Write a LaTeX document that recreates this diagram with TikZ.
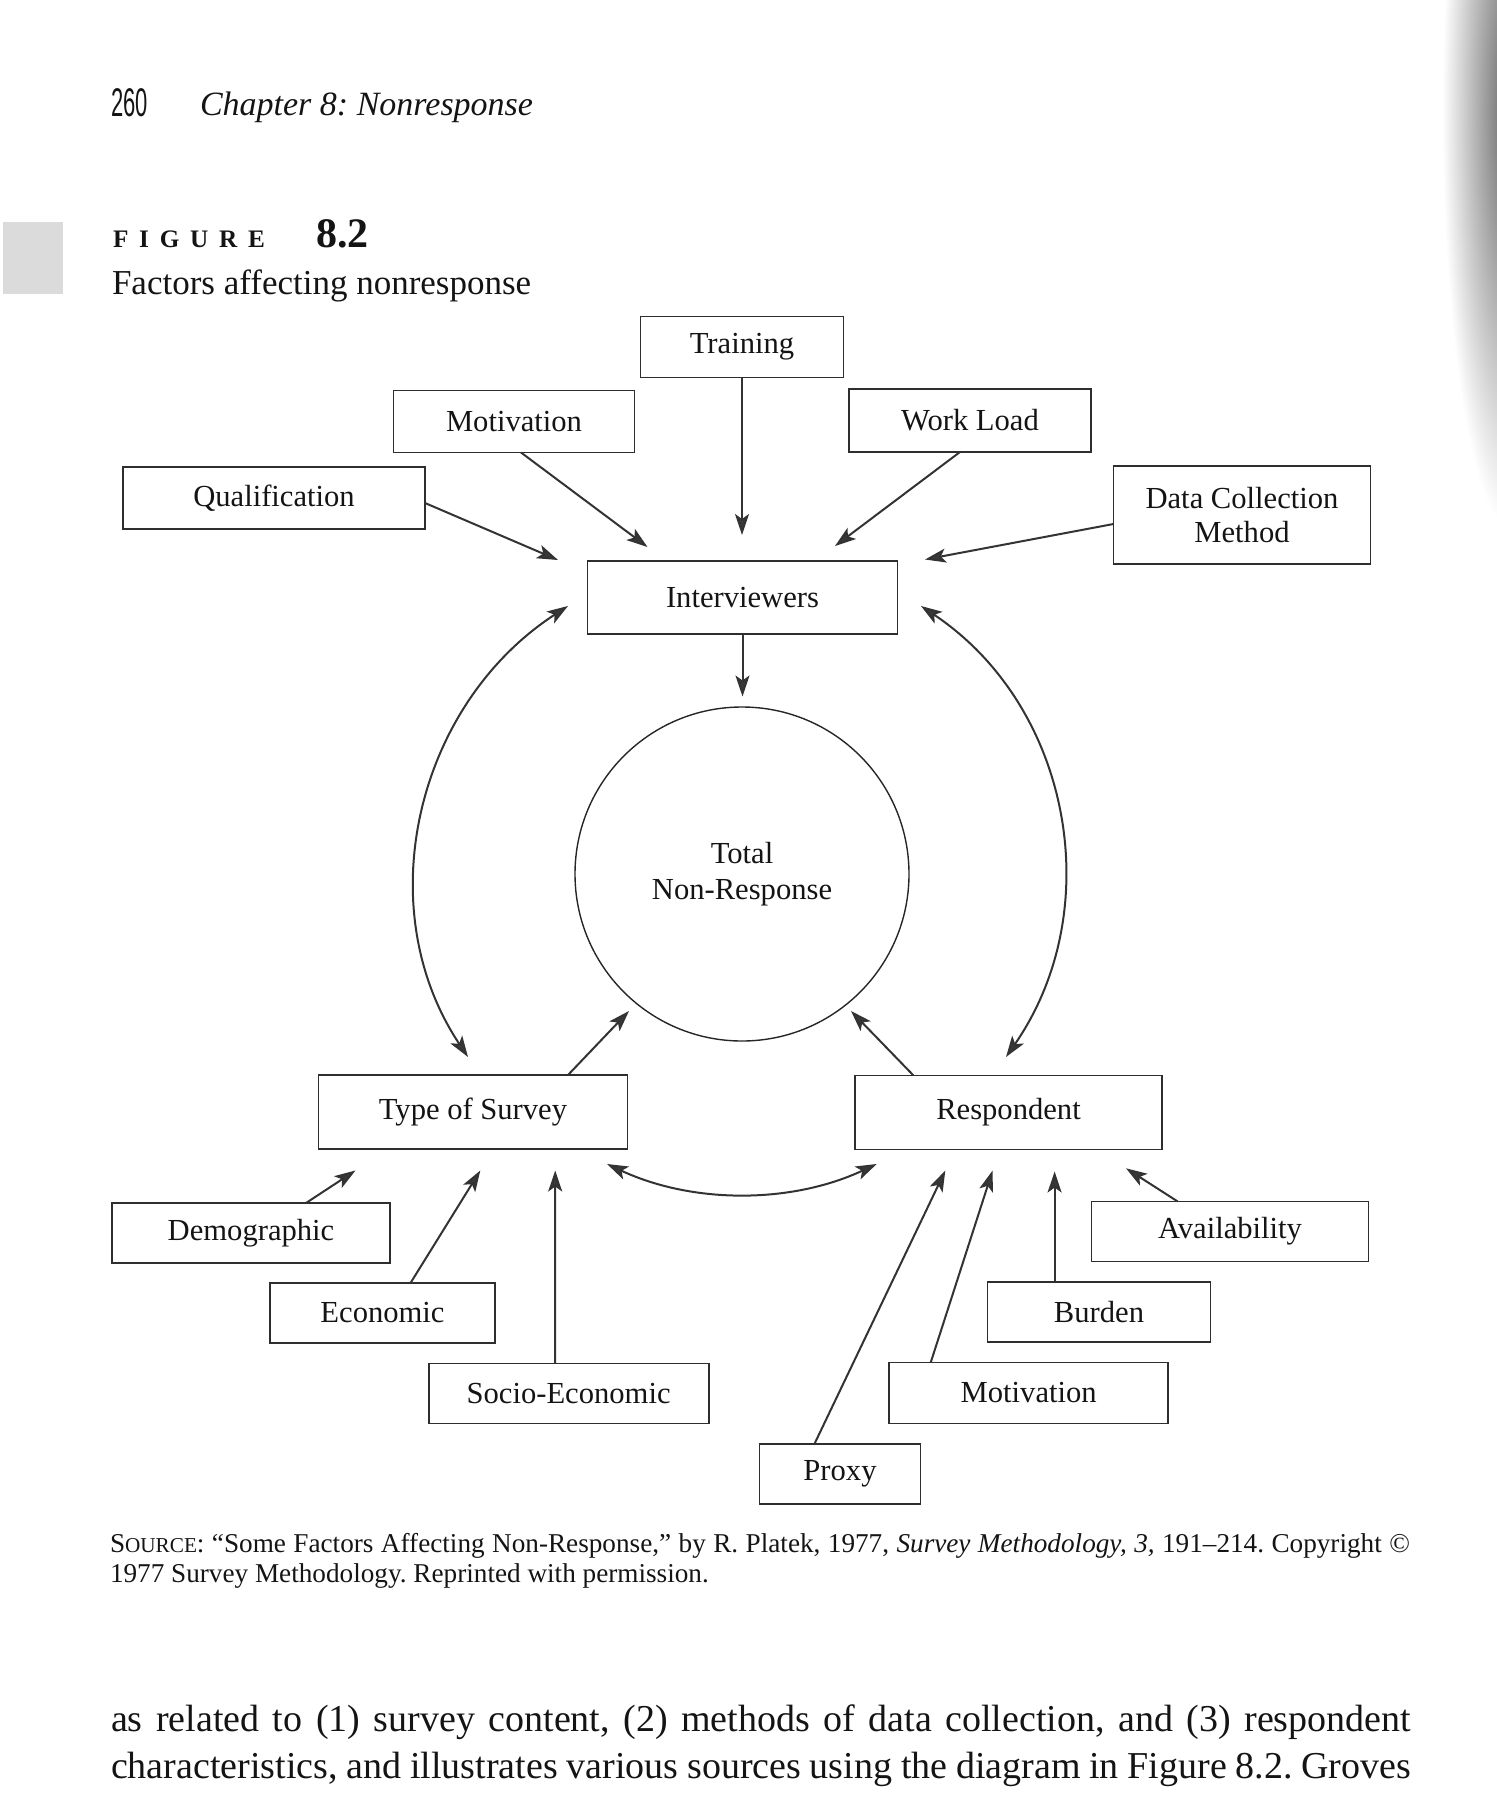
\documentclass[tikz,border=0pt]{standalone}
\usepackage{fontspec}
\usepackage{graphicx}
\setmainfont{Liberation Serif}
\newfontfamily\numfont{Liberation Sans}
\usetikzlibrary{arrows.meta,calc}
\begin{document}
\frenchspacing
\begin{tikzpicture}[x=0.5pt,y=-0.5pt,
  every node/.style={inner sep=0pt, outer sep=0pt, text=black!92},
  fbox/.style={draw=black!82, line width=0.9pt, align=center,
    font=\fontsize{15.3}{17}\selectfont},
  arr/.style={draw=black!80, fill=none, line width=1pt, -{Stealth[length=10.5pt,width=7pt,inset=2.5pt,fill=black!78]}},
  darr/.style={draw=black!80, line width=1pt, {Stealth[length=10.5pt,width=7pt,inset=2.5pt,fill=black!78]}-{Stealth[length=10.5pt,width=7pt,inset=2.5pt,fill=black!78]}}
]
\useasboundingbox (0,0) rectangle (1497,1793);

% scan artefacts: page shadow at right and grey tab at left
\shade[inner color=black!62, outer color=white] (1512,110) ellipse [x radius=70, y radius=420];
\fill[black!14] (3,222) rectangle (63,294);

% running head
\node[anchor=base west, font=\numfont\fontsize{20}{20}\selectfont] (pnum) at (111,117) {\scalebox{0.55}[1]{260}};
\node[anchor=base west, font=\itshape\fontsize{17}{19}\selectfont] (chap) at (200,115.5) {Chapter 8: Nonresponse};

% figure title
\node[anchor=base west, font=\bfseries\fontsize{12.6}{14}\selectfont] (figword) at (113,247.5)
  {F\hspace{5.4pt}I\hspace{5.4pt}G\hspace{5.4pt}U\hspace{5.4pt}R\hspace{5.4pt}E};
\node[anchor=base west, font=\bfseries\fontsize{21}{23}\selectfont] (fignum) at (316,247.5) {8.2};
\node[anchor=base west, font=\fontsize{17.5}{20}\selectfont] (figcap) at (112,294.3) {Factors affecting nonresponse};

% boxes
\node[fbox, minimum width=101.5pt, minimum height=30.5pt] (train) at (742,347) {\raisebox{-1.5pt}{Training}};
\node[fbox, minimum width=120.5pt, minimum height=31pt] (motivT) at (514,421.5) {\raisebox{-1.5pt}{Motivation}};
\node[fbox, minimum width=121pt, minimum height=31.5pt] (work) at (970,420.5) {\raisebox{-1.5pt}{Work Load}};
\node[fbox, minimum width=151pt, minimum height=31pt] (qual) at (274,498) {\raisebox{-2pt}{Qualification}};
\node[fbox, minimum width=128.5pt, minimum height=49pt] (dcm) at (1242,515) {Data Collection\\Method};
\node[fbox, minimum width=155pt, minimum height=36.5pt] (interv) at (742.5,597.5) {Interviewers};
\node[draw=black!85, line width=0.7pt, circle, minimum size=167pt, align=center,
  font=\fontsize{15.3}{17.7}\selectfont] (tnr) at (742,874) {Total\\Non-Response};
\node[fbox, minimum width=154.5pt, minimum height=37pt] (tos) at (473,1112) {\raisebox{-1pt}{Type of Survey}};
\node[fbox, minimum width=153.5pt, minimum height=37pt] (resp) at (1008.5,1112.5) {\raisebox{-1pt}{Respondent}};
\node[fbox, minimum width=139pt, minimum height=30pt] (demo) at (251,1233) {\raisebox{-1pt}{Demographic}};
\node[fbox, minimum width=112.5pt, minimum height=30pt] (econ) at (382.5,1313) {Economic};
\node[fbox, minimum width=140pt, minimum height=30pt] (socio) at (568.6,1393.5) {Socio-Economic};
\node[fbox, minimum width=138.5pt, minimum height=30pt] (avail) at (1230,1231.5) {\raisebox{-1pt}{Availability}};
\node[fbox, minimum width=111.5pt, minimum height=30pt] (burden) at (1099,1312) {Burden};
\node[fbox, minimum width=139.5pt, minimum height=30.5pt] (motivB) at (1028.7,1393) {Motivation};
\node[fbox, minimum width=80.5pt, minimum height=30pt] (proxy) at (840,1474) {\raisebox{-1pt}{Proxy}};

% arrow tips (free ends)
\coordinate (tTrain) at (742,535);
\coordinate (tMotT) at (647.5,547);
\coordinate (tWork) at (835,546);
\coordinate (tQual) at (558,560);
\coordinate (tDcm) at (925,559.5);
\coordinate (tInt) at (742.5,696.5);
\coordinate (aL1) at (468,1057);
\coordinate (aL2) at (568,606);
\coordinate (aR1) at (921,606);
\coordinate (aR2) at (1006,1057);
\coordinate (tTos) at (629,1011);
\coordinate (tResp) at (851,1011);
\coordinate (bL) at (607,1164);
\coordinate (bR) at (876.7,1164);
\coordinate (tDemo) at (355.5,1170.5);
\coordinate (tEcon) at (480.3,1170.5);
\coordinate (tSocio) at (555.2,1170.5);
\coordinate (tProxy) at (945.3,1170.5);
\coordinate (tMotB) at (992.6,1170.5);
\coordinate (tBurden) at (1054.6,1171.5);
\coordinate (tAvail) at (1126,1168.3);

% connectors
\draw[arr] (train.south) -- (tTrain);
\draw[arr] ($(motivT.south)+(7,0)$) -- (tMotT);
\draw[arr] ($(work.south)+(-10,0)$) -- (tWork);
\draw[arr] ($(qual.east)+(0,5)$) -- (tQual);
\draw[arr] ($(dcm.west)+(0,9)$) -- (tDcm);
\draw[arr] (interv.south) -- (tInt);
\draw[darr] (aL1) .. controls (368,907) and (416.6,704.3) .. (aL2);
\draw[darr] (aR1) .. controls (1070.8,705.9) and (1108.5,909) .. (aR2);
\draw[arr] ($(tos.north)+(95,0)$) -- (tTos);
\draw[arr] ($(resp.north)+(-95,0)$) -- (tResp);
\draw[darr] (bL) .. controls (692.7,1204) and (791,1204) .. (bR);
\draw[arr] ($(demo.north)+(55,0)$) -- (tDemo);
\draw[arr] ($(econ.north)+(28,0)$) -- (tEcon);
\draw[arr] ($(socio.north)+(-13.4,0)$) -- (tSocio);
\draw[arr] ($(proxy.north)+(-25.6,0)$) -- (tProxy);
\draw[arr] ($(motivB.north)+(-98,0)$) -- (tMotB);
\draw[arr] ($(burden.north)+(-44.4,0)$) -- (tBurden);
\draw[arr] ($(avail.north)+(-52.3,0)$) -- (tAvail);

% source note
\node[anchor=base west, font=\fontsize{13.6}{15}\selectfont] (src1) at (110,1552.3)
  {\makebox[650pt][s]{S{\fontsize{10.6}{12}\selectfont OURCE}: “Some Factors Affecting Non-Response,” by R. Platek, 1977, \textit{Survey Methodology, 3,} 191–214. Copyright ©}};
\node[anchor=base west, font=\fontsize{13.6}{15}\selectfont] (src2) at (110,1582.7)
  {1977 Survey Methodology. Reprinted with permission.};

% body text
\node[anchor=base west, font=\fontsize{19}{23}\selectfont] (body1) at (111,1731.7)
  {\makebox[650pt][s]{as related to (1) survey content, (2) methods of data collection, and (3) respondent}};
\node[anchor=base west, font=\fontsize{19}{23}\selectfont] (body2) at (111,1778.3)
  {\makebox[650pt][s]{characteristics, and illustrates various sources using the diagram in Figure 8.2. Groves}};
\end{tikzpicture}
\end{document}
